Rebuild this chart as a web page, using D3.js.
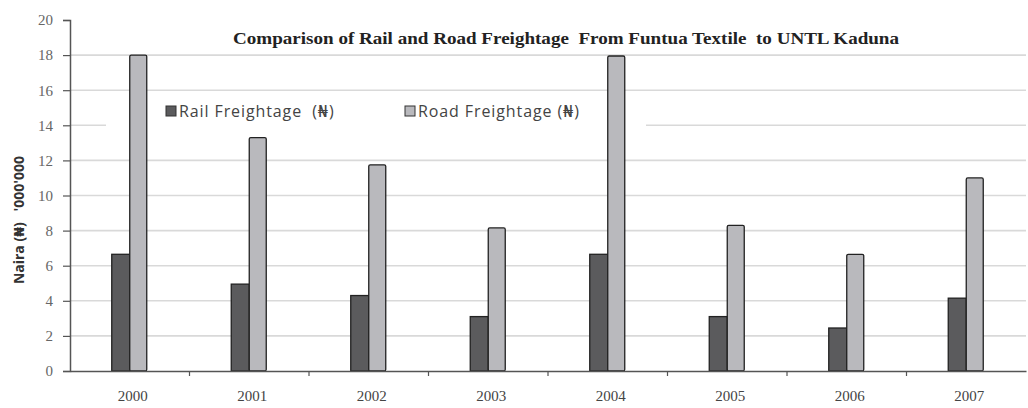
<!DOCTYPE html>
<html>
<head>
<meta charset="utf-8">
<script src="https://cdn.jsdelivr.net/npm/d3@7"></script>
<style>
  body { margin: 0; background: #fff; }
  svg { display: block; }
</style>
</head>
<body>
<div id="chart"></div>
<script>
// data (millions of naira)
const years = ["2000", "2001", "2002", "2003", "2004", "2005", "2006", "2007"];
const railFreight = [6.65, 4.95, 4.3, 3.1, 6.65, 3.1, 2.45, 4.15];
const roadFreight = [18.0, 13.3, 11.75, 8.15, 17.95, 8.3, 6.65, 11.0];
const yTicks = [0, 2, 4, 6, 8, 10, 12, 14, 16, 18, 20];
const seriesNames = ["Rail Freightage  (\u20A6)", "Road Freightage (\u20A6)"];
const seriesColors = ["#5b5b5d", "#b9b9bd"];

const width = 1028;
const height = 408;
const margin = { top: 20, right: 2, bottom: 37, left: 70 };

const svg = d3.select("#chart").append("svg")
    .attr("width", width)
    .attr("height", height);

const x = d3.scaleBand()
    .domain(years)
    .range([margin.left, width - margin.right])
    .padding(0);

const y = d3.scaleLinear()
    .domain([0, 20])
    .range([height - margin.bottom, margin.top]);

// gridlines
svg.append("g")
    .selectAll("line")
    .data(yTicks.filter(d => d > 0 && d < 20))
    .enter().append("line")
    .attr("x1", margin.left)
    .attr("x2", width - margin.right)
    .attr("y1", d => y(d))
    .attr("y2", d => y(d))
    .attr("stroke", "#d9d9d9")
    .attr("stroke-width", 1.6);

// legend box (white, covers gridline behind it)
const legend = svg.append("g");
legend.append("rect")
    .attr("x", 106)
    .attr("y", 96)
    .attr("width", 540)
    .attr("height", 58)
    .attr("fill", "#fff");

const legendX = [166, 405];
const legendItem = legend.selectAll(".item")
    .data(seriesNames)
    .enter().append("g")
    .attr("class", "item")
    .attr("transform", (d, i) => `translate(${legendX[i]}, 111)`);

legendItem.append("rect")
    .attr("x", 0)
    .attr("y", -5)
    .attr("width", 10)
    .attr("height", 10)
    .attr("fill", (d, i) => seriesColors[i])
    .attr("stroke", "#333")
    .attr("stroke-width", 1);

legendItem.append("text")
    .attr("x", 13)
    .attr("y", 6)
    .style("font-family", "'Open Sans', 'DejaVu Sans', sans-serif")
    .style("font-size", "16px")
    .style("letter-spacing", "0.9px")
    .style("white-space", "pre")
    .style("fill", "#444")
    .text(d => d);

// bars
const barW = 18;
const center = d => x(d) + x.bandwidth() / 2;

svg.append("g")
    .selectAll("rect")
    .data(years)
    .enter().append("rect")
    .attr("x", d => center(d) - barW)
    .attr("y", (d, i) => y(railFreight[i]))
    .attr("width", barW)
    .attr("height", (d, i) => y(0) - y(railFreight[i]))
    .attr("fill", seriesColors[0])
    .attr("stroke", "#222")
    .attr("stroke-width", 1.3);

svg.append("g")
    .selectAll("rect")
    .data(years)
    .enter().append("rect")
    .attr("x", d => center(d))
    .attr("y", (d, i) => y(roadFreight[i]))
    .attr("width", barW - 1)
    .attr("height", (d, i) => y(0) - y(roadFreight[i]))
    .attr("fill", seriesColors[1])
    .attr("stroke", "#222")
    .attr("stroke-width", 1.3)
    .attr("rx", 1.5);

// y axis
const yAxis = svg.append("g")
    .attr("transform", `translate(${margin.left}, 0)`)
    .call(d3.axisLeft(y).tickValues(yTicks).tickSize(7).tickPadding(10));
yAxis.select(".domain").attr("stroke", "#555").attr("stroke-width", 1.5);
yAxis.selectAll(".tick line").attr("stroke", "#555").attr("stroke-width", 1.2);
yAxis.selectAll(".tick text")
    .style("font-family", "'Liberation Serif', 'DejaVu Serif', serif")
    .style("font-size", "15px")
    .style("fill", "#666");

// x axis: labels at band centres, ticks at band edges
const xAxis = svg.append("g")
    .attr("transform", `translate(0, ${y(0)})`)
    .call(d3.axisBottom(x).tickSize(0).tickPadding(19));
xAxis.select(".domain").attr("stroke", "#555").attr("stroke-width", 1.5);
xAxis.selectAll(".tick text")
    .attr("dx", 3)
    .style("font-family", "'Liberation Serif', 'DejaVu Serif', serif")
    .style("font-size", "15px")
    .style("fill", "#444");

xAxis.selectAll(".edge")
    .data(years.slice(1))
    .enter().append("line")
    .attr("class", "edge")
    .attr("x1", d => x(d))
    .attr("x2", d => x(d))
    .attr("y1", 0)
    .attr("y2", 5)
    .attr("stroke", "#555")
    .attr("stroke-width", 1.2);

// title
svg.append("text")
    .attr("x", 566)
    .attr("y", 44)
    .attr("text-anchor", "middle")
    .attr("textLength", 666)
    .attr("lengthAdjust", "spacingAndGlyphs")
    .style("font-family", "'Liberation Serif', 'DejaVu Serif', serif")
    .style("font-weight", "bold")
    .style("font-size", "17px")
    .style("white-space", "pre")
    .style("fill", "#222")
    .text("Comparison of Rail and Road Freightage  From Funtua Textile  to UNTL Kaduna");

// y axis title
svg.append("text")
    .attr("transform", "translate(24, 220) rotate(-90)")
    .attr("text-anchor", "middle")
    .style("font-family", "'Open Sans', 'DejaVu Sans', sans-serif")
    .style("font-weight", "bold")
    .style("font-size", "14px")
    .style("fill", "#333")
    .style("white-space", "pre")
    .text("Naira (\u20A6)   '000'000");
</script>
</body>
</html>
